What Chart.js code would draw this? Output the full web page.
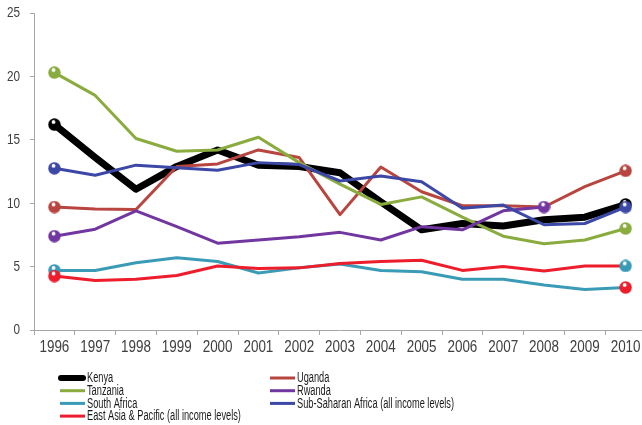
<!DOCTYPE html>
<html>
<head>
<meta charset="utf-8">
<script src="https://cdn.jsdelivr.net/npm/chart.js@4"></script>
<style>
  html, body { margin: 0; padding: 0; background: #fff; overflow: hidden; }
  #wrap { position: relative; width: 646px; height: 425px; }
</style>
</head>
<body>
<div id="wrap"><canvas id="chart" width="646" height="425"></canvas></div>
<script>
(function () {
  "use strict";

  const years = ["1996","1997","1998","1999","2000","2001","2002","2003","2004","2005","2006","2007","2008","2009","2010"];
  const yTicks = [0, 5, 10, 15, 20, 25];

  const kenya       = [16.2, 13.6, 11.1, 12.9, 14.2, 13.0, 12.9, 12.4, 10.1, 7.9, 8.4, 8.2, 8.7, 8.9, 9.9];
  const uganda      = [9.7, 9.55, 9.5, 12.9, 13.1, 14.2, 13.6, 9.1, 12.85, 10.9, 9.8, 9.8, 9.7, 11.3, 12.55];
  const tanzania    = [20.3, 18.5, 15.1, 14.1, 14.2, 15.2, 13.2, 11.5, 9.9, 10.5, 8.9, 7.4, 6.8, 7.1, 8.0];
  const rwanda      = [7.4, 7.95, 9.4, 8.15, 6.85, 7.1, 7.35, 7.7, 7.1, 8.15, 7.9, 9.4, 9.7, null, null];
  const southAfrica = [4.7, 4.7, 5.3, 5.7, 5.4, 4.5, 4.9, 5.2, 4.7, 4.6, 4.0, 4.0, 3.55, 3.2, 3.35];
  const subSaharan  = [12.75, 12.2, 13.0, 12.8, 12.6, 13.2, 13.05, 11.75, 12.15, 11.7, 9.6, 9.85, 8.3, 8.4, 9.7];
  const eastAsia    = [4.25, 3.9, 4.0, 4.3, 5.05, 4.85, 4.9, 5.25, 5.4, 5.5, 4.7, 5.0, 4.65, 5.05, 5.05];

  const FONT = "'Liberation Sans', Arial, sans-serif";
  const AXIS = "#a6a6a6";
  const TEXT = "#404040";

  // glossy end marker
  function sphere(color) {
    const cv = document.createElement("canvas");
    cv.width = 13; cv.height = 13;
    const g = cv.getContext("2d");
    g.fillStyle = color;
    g.beginPath(); g.arc(6.5, 6.5, 6.2, 0, Math.PI * 2); g.fill();
    g.fillStyle = "#fff";
    g.beginPath(); g.arc(5.6, 3.9, 1.9, 0, Math.PI * 2); g.fill();
    return cv;
  }

  function lastIndex(arr) {
    for (let i = arr.length - 1; i >= 0; i--) if (arr[i] != null) return i;
    return 0;
  }

  // endColor: the 2010 markers of South Africa and East Asia are swapped in the original
  function series(label, data, color, width, endColor) {
    const first = sphere(color), last = sphere(endColor || color);
    const li = lastIndex(data);
    return {
      label, data,
      borderColor: color,
      backgroundColor: color,
      borderWidth: width,
      tension: 0,
      borderJoinStyle: "round",
      spanGaps: false,
      pointRadius: (c) => (c.dataIndex === 0 || c.dataIndex === li) ? 6 : 0,
      pointStyle: (c) => c.dataIndex === 0 ? first : (c.dataIndex === li ? last : "circle"),
      pointHoverRadius: 0
    };
  }

  const colors = {
    kenya: "#000000",
    uganda: "#b8453f",
    tanzania: "#8aac3f",
    rwanda: "#7236a0",
    southAfrica: "#3a9bb6",
    subSaharan: "#3c48a6",
    eastAsia: "#ee1d2b"
  };

  const datasets = [
    series("Kenya", kenya, colors.kenya, 7),
    series("Uganda", uganda, colors.uganda, 3),
    series("Tanzania", tanzania, colors.tanzania, 3),
    series("Rwanda", rwanda, colors.rwanda, 3),
    series("South Africa", southAfrica, colors.southAfrica, 3, colors.eastAsia),
    series("Sub-Saharan Africa (all income levels)", subSaharan, colors.subSaharan, 3),
    series("East Asia & Pacific (all income levels)", eastAsia, colors.eastAsia, 3, colors.southAfrica)
  ];
  // later series on top, like the original
  datasets.forEach((d, i) => { d.order = datasets.length - i; });

  // condensed text, the original uses a narrow face
  function narrowText(c, text, x, y, sx, align) {
    c.save();
    c.translate(x, y);
    c.scale(sx, 1);
    c.textAlign = align;
    c.fillText(text, 0, 0);
    c.restore();
  }

  // tick labels drawn narrow at the scale's own tick positions
  const narrowTicks = {
    id: "narrowTicks",
    afterDraw(chart) {
      const c = chart.ctx;
      const xs = chart.scales.x, ys = chart.scales.y;
      c.save();
      c.fillStyle = TEXT;
      c.textBaseline = "middle";
      c.font = "16px " + FONT;
      xs.ticks.forEach((t, i) => {
        narrowText(c, xs.getLabelForValue(t.value), xs.getPixelForTick(i), xs.top + 17.5, 0.84, "center");
      });
      c.font = "14px " + FONT;
      ys.ticks.forEach((t) => {
        narrowText(c, String(t.value), ys.right - 14, ys.getPixelForValue(t.value) + 0.5, 0.84, "right");
      });
      c.restore();
    }
  };

  // two-column legend below the axis
  const colLegend = {
    id: "colLegend",
    afterDraw(chart) {
      const c = chart.ctx;
      const cols = [58, 268];
      const rows = [378, 390.7, 403.4, 416.1];
      c.save();
      c.font = "14px " + FONT;
      const sx = 157 / c.measureText("Sub-Saharan Africa (all income levels)").width;
      chart.data.datasets.forEach((ds, i) => {
        const x = cols[i % 2], y = rows[Math.floor(i / 2)];
        c.strokeStyle = ds.borderColor;
        if (i === 0) {
          c.lineWidth = 6; c.lineCap = "round";
          c.beginPath(); c.moveTo(x + 3, y); c.lineTo(x + 25, y); c.stroke();
        } else {
          c.lineWidth = 3; c.lineCap = "butt";
          c.beginPath(); c.moveTo(x + 2, y); c.lineTo(x + 27, y); c.stroke();
        }
        c.fillStyle = "#1a1a1a";
        c.textBaseline = "middle";
        narrowText(c, ds.label, x + 29, y + 0.5, sx, "left");
      });
      c.restore();
    }
  };

  new Chart(document.getElementById("chart"), {
    type: "line",
    data: { labels: years, datasets },
    plugins: [narrowTicks, colLegend],
    options: {
      responsive: false,
      animation: false,
      layout: { autoPadding: false, padding: { top: 13, left: 0, right: 0, bottom: 0 } },
      plugins: { legend: { display: false }, tooltip: { enabled: false } },
      scales: {
        x: {
          offset: true,
          grid: { offset: true, drawOnChartArea: false, drawTicks: true, tickLength: 5, color: AXIS },
          border: { color: AXIS, width: 1 },
          ticks: { display: false, autoSkip: false },
          afterFit: (s) => { s.height = 95; }
        },
        y: {
          min: 0, max: 25,
          afterBuildTicks: (s) => { s.ticks = yTicks.map(v => ({ value: v })); },
          grid: { drawOnChartArea: false, drawTicks: true, tickLength: 4, color: AXIS },
          border: { color: AXIS, width: 1 },
          ticks: { display: false },
          afterFit: (s) => { s.width = 34; }
        }
      }
    }
  });
})();
</script>
</body>
</html>
